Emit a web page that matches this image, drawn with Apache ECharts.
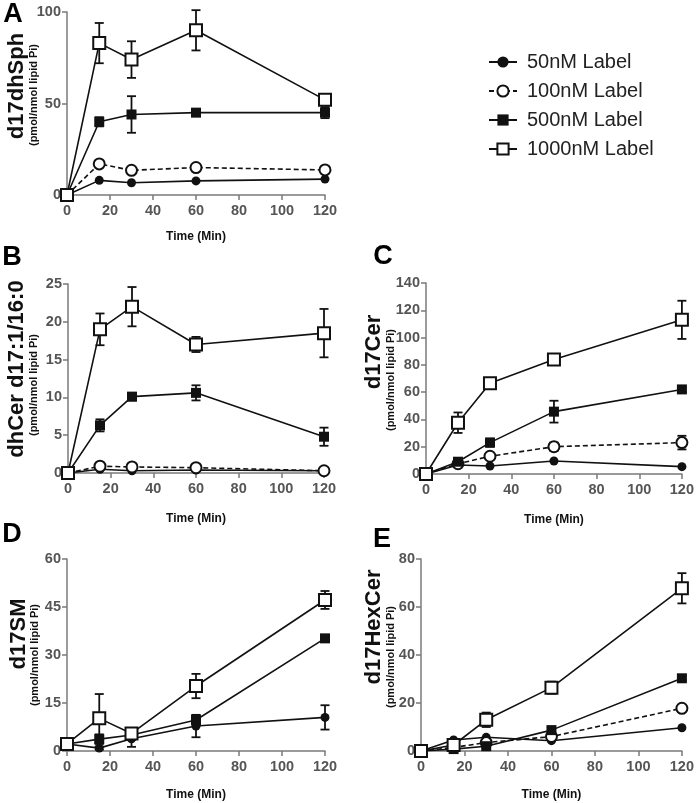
<!DOCTYPE html>
<html><head><meta charset="utf-8">
<script src="https://cdn.jsdelivr.net/npm/echarts@6/dist/echarts.min.js"></script>
<style>html,body{margin:0;padding:0;background:#fff}#c{width:697px;height:803px}</style>
</head><body><div id="c"></div>
<script>
const times = [0, 15, 30, 60, 120];
const xTicks = [0, 20, 40, 60, 80, 100, 120];
const names = ['50nM Label', '100nM Label', '500nM Label', '1000nM Label'];

// Panel A: d17dhSph
const a50 = [0, 8, 6.7, 7.7, 8.7];
const a50err = [0, 0, 0, 0, 0];
const a100 = [0, 17, 13.5, 15, 13.7];
const a100err = [0, 0.8, 0.5, 0.5, 0.5];
const a500 = [0, 40, 44, 45, 45];
const a500err = [0, 2.5, 10, 0.5, 3];
const a1000 = [0, 83, 74, 90, 52];
const a1000err = [0, 11, 10, 11, 2];

// Panel B: dhCer d17:1/16:0
const b50 = [0, 0.5, 0.3, 0.4, 0.3];
const b50err = [0, 0, 0, 0, 0];
const b100 = [0, 0.9, 0.8, 0.7, 0.3];
const b100err = [0, 0.1, 0.1, 0.1, 0.1];
const b500 = [0, 6.3, 10.1, 10.6, 4.8];
const b500err = [0, 0.8, 0.5, 1.0, 1.2];
const b1000 = [0, 19, 22, 17, 18.5];
const b1000err = [0, 2.1, 2.6, 1.0, 3.2];

// Panel C: d17Cer
const c50 = [0, 6.6, 5.9, 9.5, 5.4];
const c50err = [0, 0, 0, 0, 0];
const c100 = [0, 7.5, 13, 20, 23];
const c100err = [0, 1, 1.5, 3, 5];
const c500 = [0, 9, 23, 45.7, 62];
const c500err = [0, 1, 3, 8, 2];
const c1000 = [0, 37.6, 66.5, 84, 113];
const c1000err = [0, 7.5, 1.5, 2, 14];

// Panel D: d17SM (no 100nM curve shown)
const d50 = [2.2, 0.9, 3.8, 7.8, 10.5];
const d50err = [0, 0.5, 2.5, 3.5, 3.8];
const d500 = [2.2, 3.7, 5, 9.7, 35.2];
const d500err = [0, 1.5, 1.5, 1.5, 0.5];
const d1000 = [2.2, 10.2, 5.5, 20.3, 47.2];
const d1000err = [0, 7.6, 1.5, 3.8, 2.8];

// Panel E: d17HexCer
const e50 = [0, 4.6, 5.7, 4.3, 9.7];
const e50err = [0, 0, 0, 0, 0];
const e100 = [0, 1.5, 3.5, 6, 17.8];
const e100err = [0, 0, 0.5, 1, 1];
const e500 = [0, 0.8, 2, 8.7, 30.3];
const e500err = [0, 0, 0.5, 1, 1];
const e1000 = [0, 2.5, 13, 26.4, 67.8];
const e1000err = [0, 0.5, 3, 2.5, 6.3];

const yMax = [100, 25, 140, 60, 80];
const yInterval = [50, 5, 20, 15, 20];

const panels = [
  {s: [[a50, a50err], [a100, a100err], [a500, a500err], [a1000, a1000err]]},
  {s: [[b50, b50err], [b100, b100err], [b500, b500err], [b1000, b1000err]]},
  {s: [[c50, c50err], [c100, c100err], [c500, c500err], [c1000, c1000err]]},
  {s: [[d50, d50err], null, [d500, d500err], [d1000, d1000err]]},
  {s: [[e50, e50err], [e100, e100err], [e500, e500err], [e1000, e1000err]]}
];

const grids = [
  {left: 67, top: 12, width: 258, height: 183},
  {left: 68, top: 284, width: 256, height: 189},
  {left: 426, top: 283, width: 257, height: 191},
  {left: 67, top: 559, width: 258, height: 192},
  {left: 421, top: 559, width: 264, height: 192}
];
const xNameGap = [36, 40, 40, 38, 38];

const INK = '#111';
const AX = '#7a7a7a';
const SANS = "'Liberation Sans',Arial,Helvetica,sans-serif";

const styles = [
  {symbol: 'circle', size: 9, fill: INK, border: 0, dash: 'solid'},
  {symbol: 'circle', size: 11, fill: '#fff', border: 2, dash: [5, 3]},
  {symbol: 'rect', size: 10, fill: INK, border: 0, dash: 'solid'},
  {symbol: 'rect', size: 12, fill: '#fff', border: 2, dash: 'solid'}
];

const xAxes = [], yAxes = [], series = [];
grids.forEach((g, i) => {
  xAxes.push({
    gridIndex: i, type: 'value', min: 0, max: 120, interval: 20,
    name: 'Time (Min)', nameLocation: 'middle', nameGap: xNameGap[i],
    nameTextStyle: {fontFamily: SANS, fontWeight: 'bold', fontSize: 12, color: INK},
    axisLine: {show: true, onZero: false, lineStyle: {color: AX, width: 1.5}},
    axisTick: {show: true, length: 5, lineStyle: {color: AX, width: 1.5}},
    axisLabel: {fontFamily: SANS, fontWeight: 'bold', fontSize: 14.5, color: '#555', margin: 8},
    splitLine: {show: false}
  });
  yAxes.push({
    gridIndex: i, type: 'value', min: 0, max: yMax[i], interval: yInterval[i],
    axisLine: {show: true, onZero: false, lineStyle: {color: AX, width: 1.5}},
    axisTick: {show: true, length: 5, lineStyle: {color: AX, width: 1.5}},
    axisLabel: {fontFamily: SANS, fontWeight: 'bold', fontSize: 14.5, color: '#555', margin: 6},
    splitLine: {show: false}
  });
});

function errRender(params, api) {
  const x = api.value(0), y = api.value(1), e = api.value(2);
  if (!e) return null;
  const top = api.coord([x, y + e]);
  const bot = api.coord([x, y - e]);
  const hw = 4.5;
  const st = {stroke: INK, lineWidth: 1.8};
  return {type: 'group', children: [
    {type: 'line', shape: {x1: top[0], y1: top[1], x2: bot[0], y2: bot[1]}, style: st},
    {type: 'line', shape: {x1: top[0] - hw, y1: top[1], x2: top[0] + hw, y2: top[1]}, style: st},
    {type: 'line', shape: {x1: bot[0] - hw, y1: bot[1], x2: bot[0] + hw, y2: bot[1]}, style: st}
  ]};
}

panels.forEach((p, i) => {
  p.s.forEach((pair, k) => {
    if (!pair) return;
    const [vals, errs] = pair;
    const st = styles[k];
    series.push({
      type: 'custom', name: 'err' + i + '_' + k, xAxisIndex: i, yAxisIndex: i, z: 1,
      renderItem: errRender, encode: {x: 0, y: 1},
      data: times.map((t, j) => [t, vals[j], errs[j]]), silent: true
    });
    series.push({
      type: 'line', name: names[k], xAxisIndex: i, yAxisIndex: i, z: 3 + k,
      symbol: st.symbol, symbolSize: st.size, showSymbol: true,
      lineStyle: {color: INK, width: 1.6, type: st.dash},
      itemStyle: {color: st.fill, borderColor: INK, borderWidth: st.border},
      data: times.map((t, j) => [t, vals[j]]), animation: false
    });
  });
});

const yTitles = [
  {big: 'd17dhSph', bx: 17, by: 86, sx: 34, sy: 95},
  {big: 'dhCer d17:1/16:0', bx: 17, by: 369, sx: 34, sy: 385},
  {big: 'd17Cer', bx: 374, by: 352, sx: 391, sy: 380},
  {big: 'd17SM', bx: 19, by: 634, sx: 35, sy: 655},
  {big: 'd17HexCer', bx: 374, by: 627, sx: 391, sy: 657}
];
const letters = [['A', 13, 15], ['B', 12, 258], ['C', 383, 257], ['D', 12, 535], ['E', 382, 540]];

const graphic = [];
yTitles.forEach(t => {
  graphic.push({type: 'text', x: t.bx, y: t.by, rotation: Math.PI / 2,
    style: {text: t.big, fill: INK, font: 'bold 22px ' + SANS, textAlign: 'center', textVerticalAlign: 'middle', align: 'center', verticalAlign: 'middle'}});
  graphic.push({type: 'text', x: t.sx, y: t.sy, rotation: Math.PI / 2,
    style: {text: '(pmol/nmol lipid Pi)', fill: INK, font: 'bold 11px ' + SANS, textAlign: 'center', textVerticalAlign: 'middle', align: 'center', verticalAlign: 'middle'}});
});
letters.forEach(l => {
  graphic.push({type: 'text', x: l[1], y: l[2],
    style: {text: l[0], fill: '#000', font: 'bold 27px ' + SANS, textAlign: 'center', textVerticalAlign: 'middle', align: 'center', verticalAlign: 'middle'}});
});

const chart = echarts.init(document.getElementById('c'), null, {renderer: 'canvas'});
chart.setOption({
  backgroundColor: '#fff',
  animation: false,
  grid: grids.map(g => Object.assign({containLabel: false}, g)),
  xAxis: xAxes,
  yAxis: yAxes,
  legend: {
    data: names, orient: 'vertical', left: 483, top: 47,
    itemWidth: 28, itemHeight: 14, itemGap: 9,
    textStyle: {fontFamily: SANS, fontSize: 20, color: '#222', lineHeight: 20, padding: [0, 0, 0, 5]},
    selectedMode: false
  },
  graphic: graphic,
  series: series
});
</script></body></html>
